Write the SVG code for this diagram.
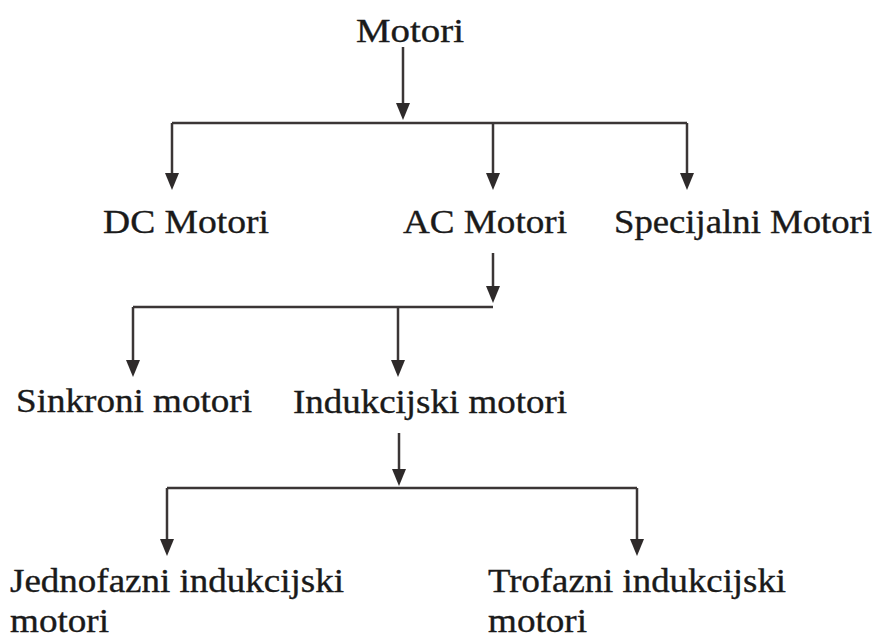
<svg xmlns="http://www.w3.org/2000/svg" width="885" height="639" viewBox="0 0 885 639">
<style>
.lbl{font-family:"Liberation Serif","Times New Roman",serif;font-size:33px;fill:#1a1a1a;stroke:#1a1a1a;stroke-width:0.35}
.ln{fill:none;stroke:#3b3636;stroke-width:2.5}
.arr{marker-end:url(#ah)}
</style>
<defs>
<marker id="ah" markerUnits="userSpaceOnUse" markerWidth="18" markerHeight="16" refX="13" refY="7" orient="auto">
<path d="M0,0 L17,7 L0,14 Z" fill="#2e2a2a"/>
</marker>
</defs>
<rect width="885" height="639" fill="#fff"/>
<g id="connectors">
<path class="ln arr" d="M403,47 V116"/>
<path class="ln" d="M172,123 H687"/>
<path class="ln arr" d="M172,123 V186"/>
<path class="ln arr" d="M493,123 V186"/>
<path class="ln arr" d="M687,123 V186"/>
<path class="ln arr" d="M493,253 V299"/>
<path class="ln" d="M133,307 H493"/>
<path class="ln arr" d="M133,307 V373"/>
<path class="ln arr" d="M398,307 V373"/>
<path class="ln arr" d="M399,433 V482"/>
<path class="ln" d="M167,488 H637"/>
<path class="ln arr" d="M167,488 V552"/>
<path class="ln arr" d="M637,488 V552"/>
</g>
<g id="n-motori"><text class="lbl" x="356" y="42" textLength="108" lengthAdjust="spacingAndGlyphs">Motori</text></g>
<g id="n-dc"><text class="lbl" x="103" y="233" textLength="166" lengthAdjust="spacingAndGlyphs">DC Motori</text></g>
<g id="n-ac"><text class="lbl" x="403" y="233" textLength="164" lengthAdjust="spacingAndGlyphs">AC Motori</text></g>
<g id="n-spec"><text class="lbl" x="614" y="233" textLength="258" lengthAdjust="spacingAndGlyphs">Specijalni Motori</text></g>
<g id="n-sink"><text class="lbl" x="16" y="412" textLength="236" lengthAdjust="spacingAndGlyphs">Sinkroni motori</text></g>
<g id="n-ind"><text class="lbl" x="293" y="413" textLength="274" lengthAdjust="spacingAndGlyphs">Indukcijski motori</text></g>
<g id="n-jedno"><text class="lbl" x="10" y="592" textLength="334" lengthAdjust="spacingAndGlyphs">Jednofazni indukcijski</text><text class="lbl" x="10" y="632" textLength="99" lengthAdjust="spacingAndGlyphs">motori</text></g>
<g id="n-tro"><text class="lbl" x="488" y="592" textLength="298" lengthAdjust="spacingAndGlyphs">Trofazni indukcijski</text><text class="lbl" x="488" y="632" textLength="99" lengthAdjust="spacingAndGlyphs">motori</text></g>
</svg>
